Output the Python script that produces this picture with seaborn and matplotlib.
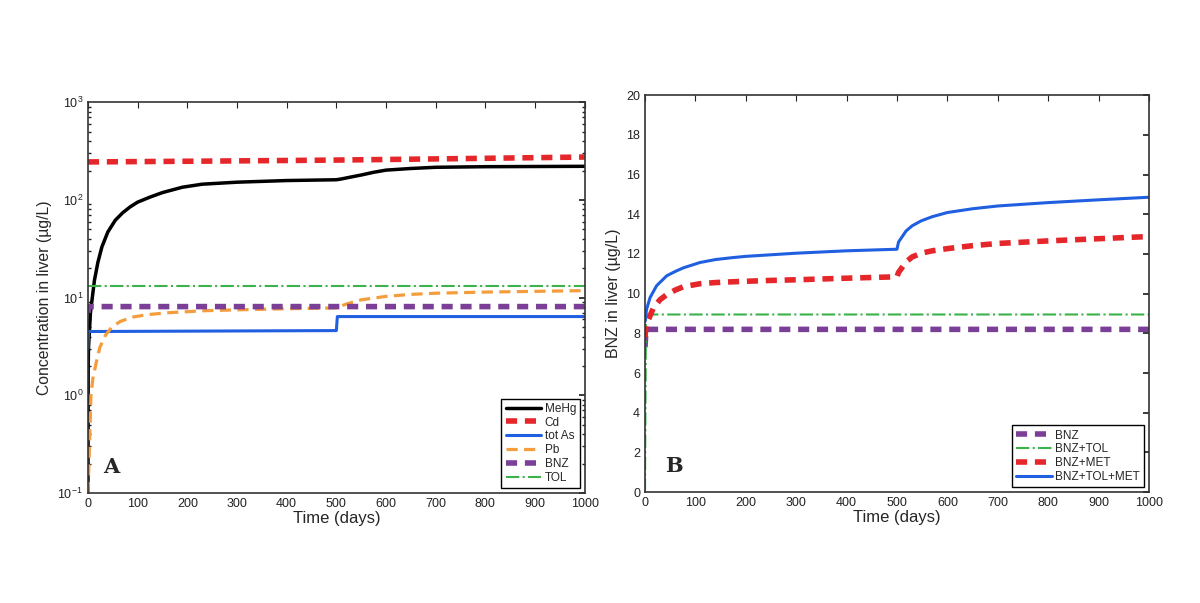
import numpy as np
import matplotlib
matplotlib.use('Agg')
import matplotlib.pyplot as plt
import seaborn as sns
from matplotlib.ticker import LogLocator, NullFormatter

# ── Panel A : concentrations in liver (log scale) ─────────────
mehg_t = [0, 0.5, 1, 5, 13, 20, 28, 40, 55, 70, 85, 100, 125, 150, 190, 230, 300, 400, 500,
          510, 530, 550, 575, 600, 650, 700, 800, 900, 1000]
mehg_v = [0.1, 2, 3, 7, 15, 23, 33, 47, 62, 74, 85, 95, 107, 119, 135, 145, 152, 158, 161,
          164, 172, 180, 192, 202, 210, 216, 219, 220, 221]

cd_t = [0, 250, 500, 750, 1000]
cd_v = [245, 250, 256, 265, 275]

as_t = [0, 1, 500, 502, 1000]
as_v = [3.0, 4.5, 4.6, 6.4, 6.4]

pb_t = [0, 2, 4, 6, 10, 17, 24, 35, 48, 65, 88, 120, 160, 235, 300, 400, 500,
        520, 550, 600, 650, 700, 800, 900, 1000]
pb_v = [0.1, 0.2, 0.45, 1.0, 1.5, 2.2, 3.1, 4.1, 5.0, 5.7, 6.3, 6.7, 7.0, 7.35, 7.5, 7.7, 7.85,
        8.6, 9.5, 10.3, 10.8, 11.1, 11.4, 11.6, 11.8]

bnz_a_t = [0, 2, 1000]
bnz_a_v = [7.0, 8.1, 8.1]

tol_t = [0, 1000]
tol_v = [13.2, 13.2]

# ── Panel B : BNZ in liver ───────────────────────────────────
bnz_t = [0, 2, 1000]
bnz_v = [7.3, 8.2, 8.2]

bnz_tol_t = [0, 2, 1000]
bnz_tol_v = [0, 8.95, 8.95]

bnz_met_t = [0, 2, 7, 17, 30, 43, 60, 76, 109, 140, 175, 240, 300, 400, 500,
             503, 518, 530, 548, 570, 600, 650, 700, 800, 900, 1000]
bnz_met_v = [7.8, 8.4, 8.7, 9.3, 9.7, 9.95, 10.18, 10.35, 10.5, 10.56, 10.6, 10.66, 10.7, 10.78, 10.85,
             11.07, 11.6, 11.85, 12.04, 12.16, 12.27, 12.42, 12.53, 12.66, 12.77, 12.88]

bnz_all_t = [0, 3, 10, 23, 43, 60, 76, 109, 140, 175, 200, 300, 400, 500,
             503, 518, 530, 548, 570, 600, 650, 700, 800, 900, 1000]
bnz_all_v = [8.6, 9.2, 9.8, 10.4, 10.9, 11.12, 11.3, 11.57, 11.72, 11.82, 11.88, 12.04, 12.16, 12.24,
             12.6, 13.16, 13.42, 13.67, 13.88, 14.09, 14.28, 14.42, 14.59, 14.73, 14.86]

sns.set_theme(style='white')
plt.rcParams['font.family'] = ['Liberation Sans', 'DejaVu Sans']
plt.rcParams.update({
    'xtick.direction': 'in', 'ytick.direction': 'in',
    'xtick.top': True, 'ytick.right': True,
    'xtick.major.size': 4, 'ytick.major.size': 4,
    'ytick.minor.size': 2, 'xtick.major.width': 0.8,
    'axes.edgecolor': '#333333', 'axes.linewidth': 1.2,
    'xtick.labelsize': 9, 'ytick.labelsize': 9,
    'xtick.color': '#222222', 'ytick.color': '#222222',
})

RED = '#e5262a'
BLUE = '#1f5fe0'
ORANGE = '#f59c3c'
PURPLE = '#7b3f98'
GREEN = '#3bb34a'
DASH = (0, (2, 1.4))

fig = plt.figure(figsize=(12, 6.03), dpi=100)
ax1 = fig.add_axes([0.0733, 0.1824, 0.414, 0.648])
ax2 = fig.add_axes([0.5375, 0.184, 0.42, 0.658])

# panel A
sns.lineplot(x=mehg_t, y=mehg_v, ax=ax1, color='black', linewidth=2.5, label='MeHg')
sns.lineplot(x=cd_t, y=cd_v, ax=ax1, color=RED, linewidth=4, linestyle=DASH, label='Cd')
sns.lineplot(x=as_t, y=as_v, ax=ax1, color=BLUE, linewidth=2.2, label='tot As')
sns.lineplot(x=pb_t, y=pb_v, ax=ax1, color=ORANGE, linewidth=2.3, linestyle=(0, (3.5, 2)), label='Pb')
sns.lineplot(x=bnz_a_t, y=bnz_a_v, ax=ax1, color=PURPLE, linewidth=4, linestyle=DASH, label='BNZ')
sns.lineplot(x=tol_t, y=tol_v, ax=ax1, color=GREEN, linewidth=1.5, linestyle='-.', label='TOL')

ax1.set_yscale('log')
ax1.set_ylim(0.1, 1000)
ax1.set_xlim(0, 1000)
ax1.set_xticks(range(0, 1001, 100))
ax1.yaxis.set_minor_locator(LogLocator(base=10, subs=np.arange(2, 10)))
ax1.yaxis.set_minor_formatter(NullFormatter())
ax1.tick_params(which='minor', direction='in', left=True, right=True)
ax1.set_xlabel('Time (days)', fontsize=12, labelpad=1)
ax1.set_ylabel('Concentration in liver (µg/L)', fontsize=11.3, labelpad=4)
ax1.text(0.03, 0.05, 'A', transform=ax1.transAxes, fontsize=15, fontweight='bold',
         family='DejaVu Serif')

# panel B
sns.lineplot(x=bnz_t, y=bnz_v, ax=ax2, color=PURPLE, linewidth=4, linestyle=DASH, label='BNZ')
sns.lineplot(x=bnz_tol_t, y=bnz_tol_v, ax=ax2, color=GREEN, linewidth=1.5, linestyle='-.', label='BNZ+TOL')
sns.lineplot(x=bnz_met_t, y=bnz_met_v, ax=ax2, color=RED, linewidth=4, linestyle=DASH, label='BNZ+MET')
sns.lineplot(x=bnz_all_t, y=bnz_all_v, ax=ax2, color=BLUE, linewidth=2.2, label='BNZ+TOL+MET')

ax2.set_ylim(0, 20)
ax2.set_xlim(0, 1000)
ax2.set_xticks(range(0, 1001, 100))
ax2.set_yticks(range(0, 21, 2))
ax2.set_xlabel('Time (days)', fontsize=12, labelpad=1)
ax2.set_ylabel('BNZ in liver (µg/L)', fontsize=11.5, labelpad=4)
ax2.text(0.04, 0.05, 'B', transform=ax2.transAxes, fontsize=15, fontweight='bold',
         family='DejaVu Serif')

for ax in (ax1, ax2):
    ax.grid(False)
    for s in ax.spines.values():
        s.set_visible(True)
    leg = ax.legend(loc='lower right', fontsize=8.5, frameon=True, fancybox=False,
                    edgecolor='black', framealpha=1, handlelength=3.0, labelspacing=0.16,
                    borderpad=0.35, handletextpad=0.3, borderaxespad=0.4)
    leg.get_frame().set_linewidth(1.0)

fig.savefig('out.png', dpi=100, facecolor='white')
